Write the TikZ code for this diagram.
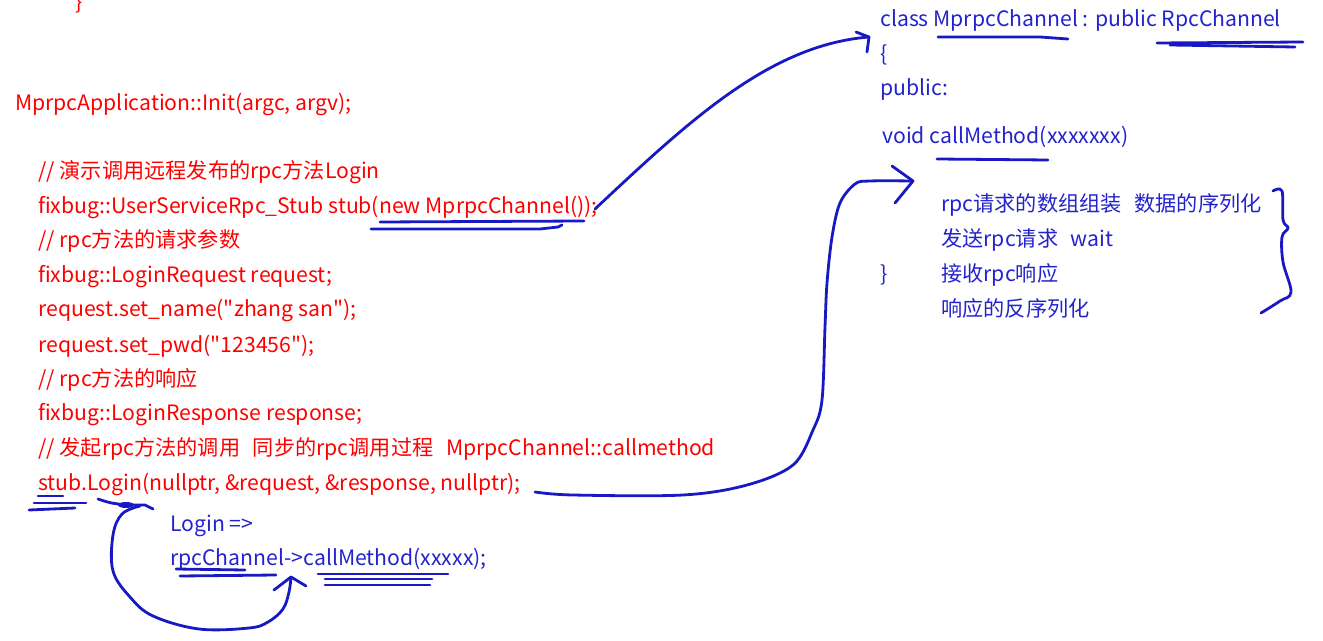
\documentclass[tikz,border=0pt]{standalone}
\usepackage{fontspec}
\setmainfont{Noto Sans CJK SC}[Ligatures=TeXOff]
\definecolor{codered}{RGB}{255,0,0}
\definecolor{codeblue}{RGB}{35,35,205}
\definecolor{penblue}{RGB}{25,25,195}
\begin{document}
\begin{tikzpicture}[x=0.75pt,y=-0.75pt,
  redtxt/.style={text=codered, font=\fontsize{15.9}{18}\selectfont, anchor=base west, inner sep=0pt},
  bluetxt/.style={redtxt, text=codeblue},
  pen/.style={draw=penblue, line width=2.1pt, line cap=round, line join=round},
]
\useasboundingbox (0,0) rectangle (1323,641);
% left code (red)
\node[redtxt] (t0) at (75,10) {\}};
\node[redtxt] (t1) at (15,111) {MprpcApplication::Init(argc, argv);};
\node[redtxt] (t2) at (38,179) {// 演示调用远程发布的rpc方法Login};
\node[redtxt] (t3) at (38,214) {fixbug::UserServiceRpc\_Stub stub(new MprpcChannel());};
\node[redtxt] (t4) at (38,248) {// rpc方法的请求参数};
\node[redtxt] (t5) at (38,283) {fixbug::LoginRequest request;};
\node[redtxt] (t6) at (38,317) {request.set\_name("zhang san");};
\node[redtxt] (t7) at (38,352) {request.set\_pwd("123456");};
\node[redtxt] (t8) at (38,386) {// rpc方法的响应};
\node[redtxt] (t9) at (38,420) {fixbug::LoginResponse response;};
\node[redtxt] (t10) at (38,455) {// 发起rpc方法的调用\hspace{0.6em}同步的rpc调用过程\hspace{0.6em}MprpcChannel::callmethod};
\node[redtxt] (t11) at (38,490) {stub.Login(nullptr, \&request, \&response, nullptr);};
% bottom blue
\node[bluetxt] (b1) at (170,531) {Login =>};
\node[bluetxt] (b2) at (170,565) {rpcChannel->callMethod(xxxxx);};
% right blue
\node[bluetxt] (r1) at (880,27) {class MprpcChannel : public RpcChannel};
\node[bluetxt] (r2) at (880,62) {\{};
\node[bluetxt] (r3) at (880,96) {public:};
\node[bluetxt] (r4) at (882,144) {void callMethod(xxxxxxx)};
\node[bluetxt] (r5) at (941,212) {rpc请求的数组组装\hspace{0.6em}数据的序列化};
\node[bluetxt] (r6) at (941,247) {发送rpc请求\hspace{0.6em}wait};
\node[bluetxt] (r7) at (880,282) {\}};
\node[bluetxt] (r8) at (941,282) {接收rpc响应};
\node[bluetxt] (r9) at (941,316) {响应的反序列化};
% underline new MprpcChannel()
\draw[pen] (380,222) -- (584,221);
\draw[pen] (371,229) -- (540,229) -- (558,227) -- (562,225);
% arrow 1
\coordinate (a1s) at (595,209);
\coordinate (a1e) at (869,37);
\draw[pen] (a1s) .. controls (690,120) and (770,45) .. (a1e);
\draw[pen] (856,32) -- (a1e) -- (867,52);
% class underlines
\draw[pen] (938,37) -- (1040,37) -- (1068,39);
\draw[pen] (1157,43) -- (1303,42);
\draw[pen] (1170,45) -- (1295,47);
\draw[pen] (937,159) -- (1048,160);
% arrow 2
\coordinate (a2s) at (535,492);
\coordinate (a2e) at (913,181);
\draw[pen] plot[smooth, tension=0.55] coordinates {(a2s) (573,495) (683,495) (747,485) (793,465) (813,430) (822,400) (825,327) (827,283) (832,237) (840,203) (855,184) (870,181) (a2e)};
\draw[pen] (892,166) -- (a2e) -- (895,203);
% right brace
\draw[pen] plot[smooth, tension=0.6] coordinates {(1273,191) (1282,191) (1283,220) (1288,228) (1282,237) (1283,262) (1291,292) (1280,301) (1261,313)};
% stub underlines
\draw[pen] (38,496) -- (63,496);
\draw[pen] (34,503) -- (86,503);
\draw[pen] (29,510) -- (75,508);
% Login underline with loop
\draw[pen] (98,499) .. controls (110,503) .. (126,505) -- (145,505) -- (153,509);
\fill[penblue] (126,505) ellipse [x radius=8, y radius=3];
\coordinate (lps) at (140,506);
\coordinate (lpe) at (291,577);
\draw[pen] plot[smooth, tension=0.6] coordinates {(lps) (122,514) (113,535) (113,571) (130,597) (153,616) (199,629) (249,628) (268,622) (283,609) (289,592) (lpe)};
\draw[pen] (274,590) -- (lpe) -- (306,586);
% rpcChannel underlines
\draw[pen] (176,569) -- (245,570);
\draw[pen] (180,576) -- (276,575);
% callMethod underlines
\draw[pen] (318,574) -- (448,574);
\draw[pen] (325,579) -- (432,579);
\draw[pen] (325,585) -- (430,585);
\end{tikzpicture}
\end{document}
